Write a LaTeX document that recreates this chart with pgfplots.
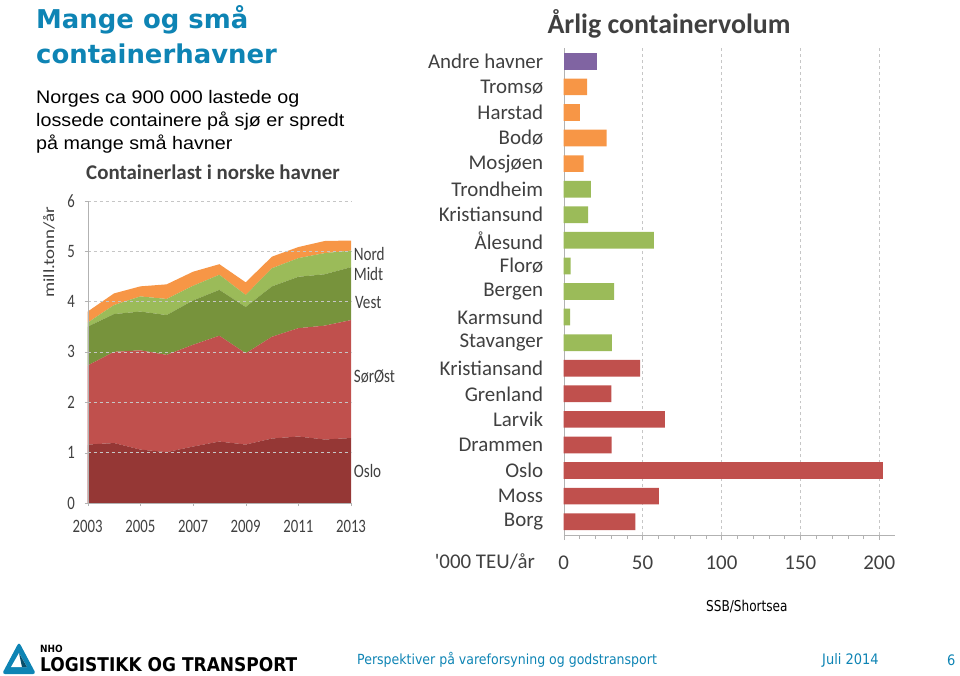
\documentclass[border=0pt]{standalone}
\usepackage{pgfplots}
\pgfplotsset{compat=1.18}
\usepackage{fontspec}
\setmainfont{Carlito}
\newfontfamily\verd{DejaVu Sans}
\newfontfamily\arial{Liberation Sans}
\newfontfamily\tahoma{DejaVu Sans Condensed}
\definecolor{ttl}{RGB}{14,132,180}
\definecolor{osl}{RGB}{149,55,53}
\definecolor{sor}{RGB}{192,80,77}
\definecolor{ves}{RGB}{119,147,60}
\definecolor{mid}{RGB}{155,187,89}
\definecolor{nor}{RGB}{247,150,70}
\definecolor{purp}{RGB}{128,100,162}
\definecolor{txt}{RGB}{64,64,64}
\begin{document}
\begin{tikzpicture}
\path[use as bounding box] (0,0) rectangle (960bp,-676bp);
% Titles
\node[anchor=base west, inner sep=0, text=ttl, font=\verd\bfseries\fontsize{26}{26}\selectfont] at (36bp,-28bp) {Mange og små};
\node[anchor=base west, inner sep=0, text=ttl, font=\verd\bfseries\fontsize{26}{26}\selectfont] at (36bp,-63bp) {containerhavner};
\node[anchor=base west, inner sep=0, font=\arial\fontsize{19.8}{19.8}\selectfont, yscale=0.92] at (36bp,-103bp) {Norges ca 900 000 lastede og};
\node[anchor=base west, inner sep=0, font=\arial\fontsize{19.8}{19.8}\selectfont, yscale=0.92] at (36bp,-126bp) {lossede containere på sjø er spredt};
\node[anchor=base west, inner sep=0, font=\arial\fontsize{19.8}{19.8}\selectfont, yscale=0.92] at (36bp,-149bp) {på mange små havner};
% left chart
\node[text=txt, font=\bfseries\fontsize{21}{21}\selectfont] at (213bp,-172bp) {Containerlast i norske havner};
\begin{axis}[
  at={(87.7bp,-503bp)}, anchor=south west, scale only axis,
  width=263.3bp, height=302.3bp,
  xmin=2003, xmax=2013, ymin=0, ymax=6,
  stack plots=y, area style,
  axis x line*=bottom, axis y line*=left,
  axis line style={draw=gray!60},
  xtick={2003,2005,...,2013}, ytick={0,...,6},
  x tick label style={/pgf/number format/1000 sep={}, yshift=-11bp},
  y tick label style={xshift=-9bp},
  ymajorgrids, grid style={dashed, gray!45},
  tick style={gray!60}, major tick length=3bp, tick align=outside,
  tick label style={font=\fontsize{19}{19}\selectfont, text=txt, xscale=0.78},
  /pgf/number format/assume math mode=true,
  clip=false,
]
\addplot[fill=osl, draw=none] coordinates {(2003,1.16)(2004,1.19)(2005,1.06)(2006,1.01)(2007,1.12)(2008,1.22)(2009,1.16)(2010,1.28)(2011,1.32)(2012,1.26)(2013,1.29)} \closedcycle;
\addplot[fill=sor, draw=none] coordinates {(2003,1.57)(2004,1.81)(2005,1.97)(2006,1.93)(2007,2.02)(2008,2.10)(2009,1.81)(2010,2.02)(2011,2.15)(2012,2.26)(2013,2.34)} \closedcycle;
\addplot[fill=ves, draw=none] coordinates {(2003,0.77)(2004,0.75)(2005,0.77)(2006,0.79)(2007,0.88)(2008,0.91)(2009,0.92)(2010,1.00)(2011,1.02)(2012,1.02)(2013,1.05)} \closedcycle;
\addplot[fill=mid, draw=none] coordinates {(2003,0.08)(2004,0.18)(2005,0.30)(2006,0.32)(2007,0.29)(2008,0.30)(2009,0.24)(2010,0.36)(2011,0.37)(2012,0.42)(2013,0.33)} \closedcycle;
\addplot[fill=nor, draw=none] coordinates {(2003,0.22)(2004,0.23)(2005,0.20)(2006,0.29)(2007,0.28)(2008,0.21)(2009,0.25)(2010,0.23)(2011,0.22)(2012,0.24)(2013,0.20)} \closedcycle;
\node[anchor=west, text=txt, font=\fontsize{19}{19}\selectfont, xscale=0.8] at (axis cs:2013,4.94) {Nord};
\node[anchor=west, text=txt, font=\fontsize{19}{19}\selectfont, xscale=0.8] at (axis cs:2013,4.54) {Midt};
\node[anchor=west, text=txt, font=\fontsize{19}{19}\selectfont, xscale=0.8] at (axis cs:2013.05,3.97) {Vest};
\node[anchor=west, text=txt, font=\fontsize{19}{19}\selectfont, xscale=0.8] at (axis cs:2013,2.51) {SørØst};
\node[anchor=west, text=txt, font=\fontsize{19}{19}\selectfont, xscale=0.8] at (axis cs:2013,0.63) {Oslo};
\node[rotate=90, text=txt, font=\fontsize{19}{19}\selectfont, yscale=0.82] at (rel axis cs:-0.147,0.83) {mill.tonn/år};
\end{axis}
% right chart
\node[text=txt, font=\bfseries\fontsize{28}{28}\selectfont] at (669bp,-24bp) {Årlig containervolum};
\begin{axis}[
  at={(563.7bp,-535bp)}, anchor=south west, scale only axis,
  width=331.3bp, height=487bp,
  xmin=0, xmax=210, ymin=-0.52, ymax=18.52,
  xbar, bar width=16.7bp, bar shift=0pt,
  ytick={0,...,18},
  yticklabels={Borg,Moss,Oslo,Drammen,Larvik,Grenland,Kristiansand,Stavanger,Karmsund,Bergen,Florø,Ålesund,Kristiansund,Trondheim,Mosjøen,Bodø,Harstad,Tromsø,Andre havner},
  xtick={0,50,...,200}, minor x tick num=4,
  axis x line*=bottom, axis y line*=left,
  axis line style={draw=gray!60},
  ytick style={draw=none},
  xtick style={gray!60}, major tick length=5bp, minor tick length=4bp, tick align=outside,
  xmajorgrids, grid style={dashed, gray!45},
  tick label style={font=\fontsize{21}{21}\selectfont, text=txt},
  y tick label style={xshift=-12bp},
  x tick label style={yshift=-12bp},
  /pgf/number format/assume math mode=true,
  clip=false,
]
\addplot[fill=purp, draw=none] coordinates {(20.9,18)};
\addplot[fill=nor, draw=none] coordinates {(14.8,17)(10.3,16)(27.2,15)(12.7,14)};
\addplot[fill=mid, draw=none] coordinates {(17.3,13)(15.4,12)(57.2,11)(4.4,10)(31.9,9)(4.0,8)(30.6,7)};
\addplot[fill=sor, draw=none] coordinates {(48.5,6)(30.2,5)(64.1,4)(30.4,3)(202.3,2)(60.3,1)(45.4,0)};
\end{axis}
\node[anchor=east, inner sep=0, text=txt, font=\fontsize{21}{21}\selectfont] at (535bp,-562bp) {\textquotesingle 000 TEU/år};
% footer
\node[anchor=west, inner sep=0, font=\tahoma\fontsize{15}{15}\selectfont, xscale=0.9] at (706bp,-607bp) {SSB/Shortsea};
\node[anchor=west, inner sep=0, text=ttl, font=\tahoma\fontsize{14}{14}\selectfont] at (357bp,-660bp) {Perspektiver på vareforsyning og godstransport};
\node[anchor=west, inner sep=0, text=ttl, font=\tahoma\fontsize{14.5}{14.5}\selectfont] at (822bp,-660bp) {Juli 2014};
\node[anchor=west, inner sep=0, text=ttl, font=\tahoma\fontsize{14.5}{14.5}\selectfont] at (947bp,-660bp) {6};
% logo
\fill[ttl, rounded corners=3bp] (2bp,-674bp) -- (19bp,-642bp) -- (36bp,-674bp) -- cycle;
\fill[white] (11bp,-667bp) -- (19bp,-653bp) -- (27bp,-667bp) -- cycle;
\fill[ttl!60!black] (19bp,-653bp) -- (27bp,-667bp) -- (22bp,-667bp) -- cycle;
\node[anchor=west, inner sep=0, font=\tahoma\bfseries\fontsize{10}{10}\selectfont] at (40bp,-649bp) {NHO};
\node[anchor=west, inner sep=0, font=\tahoma\bfseries\fontsize{19}{19}\selectfont] at (40bp,-665bp) {LOGISTIKK OG TRANSPORT};
\end{tikzpicture}
\end{document}
